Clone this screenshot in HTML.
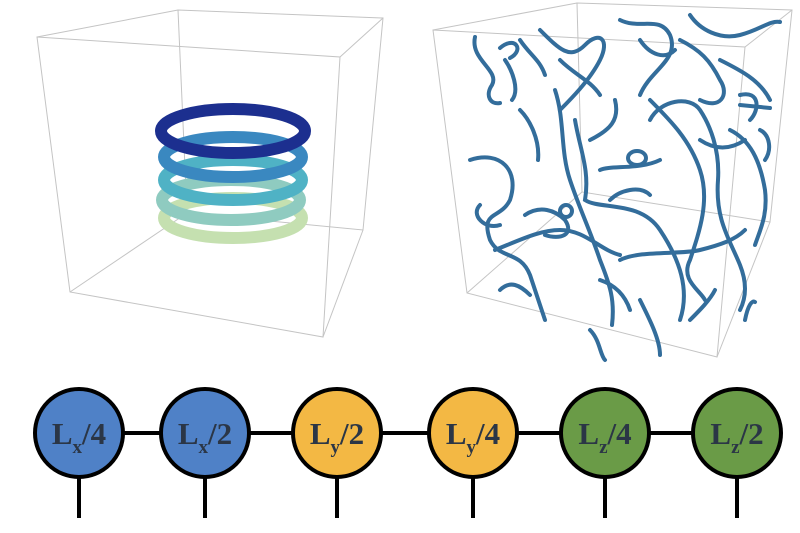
<!DOCTYPE html>
<html><head><meta charset="utf-8"><style>
html,body{margin:0;padding:0;background:#fff;}
svg{display:block}
</style></head><body>
<svg width="800" height="533" viewBox="0 0 800 533" xmlns="http://www.w3.org/2000/svg">
<g fill="none" stroke="#c4c4c4" stroke-width="1">
<polygon points="37,37 340,57 323,337 70,292"/>
<polygon points="178,10 383,18 363,230 187,213"/>
<line x1="37" y1="37" x2="178" y2="10"/><line x1="340" y1="57" x2="383" y2="18"/>
<line x1="323" y1="337" x2="363" y2="230"/><line x1="70" y1="292" x2="187" y2="213"/>
<polygon points="433,30 745,47 717,357 467,293"/>
<polygon points="577,3 792,10 770,222 582,192"/>
<line x1="433" y1="30" x2="577" y2="3"/><line x1="745" y1="47" x2="792" y2="10"/>
<line x1="717" y1="357" x2="770" y2="222"/><line x1="467" y1="293" x2="582" y2="192"/>
</g>
<g fill="none">
<ellipse cx="233" cy="218" rx="69" ry="20" stroke="#c5e0b0" stroke-width="12"/>
<ellipse cx="231" cy="200" rx="69" ry="20" stroke="#8fcbc0" stroke-width="12"/>
<ellipse cx="233" cy="180" rx="69" ry="20" stroke="#4fb2c5" stroke-width="12"/>
<ellipse cx="233" cy="157" rx="69" ry="20" stroke="#3a88c0" stroke-width="12"/>
<ellipse cx="233" cy="131" rx="72" ry="22" stroke="#1c2f8f" stroke-width="12"/>
</g>
<g fill="none" stroke="#336d9b" stroke-width="4" stroke-linecap="round">
<path d="M475,37 C470,60 500,70 492,85 C485,95 490,105 500,103 M500,48 C515,35 525,50 510,58"/>
<path d="M540,30 C560,50 570,60 585,45 C600,30 610,40 600,60 C590,80 570,100 560,110"/>
<path d="M620,20 C640,30 660,15 670,35 C680,60 650,70 640,95"/>
<path d="M690,15 C700,30 720,40 740,35 C760,30 770,20 780,22"/>
<path d="M680,40 C700,50 710,60 720,80 C730,95 720,110 700,100"/>
<path d="M740,95 C760,90 760,110 750,120 M740,105 L770,108"/>
<path d="M470,160 C500,150 520,170 510,200 C500,220 480,210 490,240 C500,260 520,250 530,275 C535,290 540,305 545,320"/>
<path d="M555,90 C565,120 560,150 570,180 C580,210 590,230 600,260 C610,285 615,300 612,325"/>
<path d="M575,120 C580,150 590,170 585,200 C600,210 640,200 660,230 C680,260 690,290 680,320"/>
<path d="M650,100 C670,120 690,140 700,170 C710,200 700,230 690,260 C680,280 700,290 705,300"/>
<path d="M650,120 C660,100 690,95 700,110 C710,125 720,150 718,180 C715,220 730,240 740,265 C748,285 745,300 740,310"/>
<path d="M620,260 C640,250 680,255 700,250 C720,245 735,240 745,230"/>
<path d="M495,250 C520,240 540,230 560,230 C585,230 600,250 620,255"/>
<path d="M525,215 C540,205 555,210 565,220 C575,235 560,240 545,235"/>
<path d="M600,170 C610,165 640,170 660,160 M590,140 C610,130 620,120 615,100"/>
<path d="M720,60 C740,70 760,80 770,100 M730,130 C750,140 760,160 765,190 C768,215 760,230 755,245"/>
<path d="M640,300 C650,320 660,340 660,355 M590,330 C600,340 600,355 605,360"/>
<path d="M520,110 C530,120 540,140 538,160 M505,60 C512,70 520,90 512,100"/>
<path d="M745,320 C748,305 752,300 755,302"/>
<path d="M440,210 M480,205 C470,215 485,230 500,225 M560,60 C575,75 590,80 600,95"/>
<path d="M520,40 C530,55 540,60 545,75 M640,40 C650,55 665,60 675,50"/>
<path d="M700,140 C715,150 730,150 745,140 M610,200 C620,190 640,185 650,195"/>
<path d="M600,280 C615,285 625,295 630,310 M690,320 C700,310 710,300 715,290"/>
<path d="M500,290 C510,280 520,285 530,295 M760,130 C770,135 772,150 765,160"/>
<ellipse cx="637" cy="158" rx="9" ry="7"/>
<ellipse cx="566" cy="211" rx="6" ry="6"/>
</g>
<g stroke="#000" stroke-width="4">
<line x1="79" y1="433" x2="737" y2="433"/>
<line x1="79" y1="470" x2="79" y2="518"/><line x1="205" y1="470" x2="205" y2="518"/>
<line x1="337" y1="470" x2="337" y2="518"/><line x1="473" y1="470" x2="473" y2="518"/>
<line x1="605" y1="470" x2="605" y2="518"/><line x1="737" y1="470" x2="737" y2="518"/>
<circle cx="79" cy="433" r="44" fill="#4f81c7"/>
<circle cx="205" cy="433" r="44" fill="#4f81c7"/>
<circle cx="337" cy="433" r="44" fill="#f3b844"/>
<circle cx="473" cy="433" r="44" fill="#f3b844"/>
<circle cx="605" cy="433" r="44" fill="#6a9b47"/>
<circle cx="737" cy="433" r="44" fill="#6a9b47"/>
</g>
<g font-family="Liberation Serif, serif" font-weight="bold" font-size="31" fill="#2b3646" text-anchor="middle">
<text x="79" y="444">L<tspan font-size="19" dy="9">x</tspan><tspan dy="-9">/4</tspan></text>
<text x="205" y="444">L<tspan font-size="19" dy="9">x</tspan><tspan dy="-9">/2</tspan></text>
<text x="337" y="444">L<tspan font-size="19" dy="9">y</tspan><tspan dy="-9">/2</tspan></text>
<text x="473" y="444">L<tspan font-size="19" dy="9">y</tspan><tspan dy="-9">/4</tspan></text>
<text x="605" y="444">L<tspan font-size="19" dy="9">z</tspan><tspan dy="-9">/4</tspan></text>
<text x="737" y="444">L<tspan font-size="19" dy="9">z</tspan><tspan dy="-9">/2</tspan></text>
</g>
</svg>
</body></html>
